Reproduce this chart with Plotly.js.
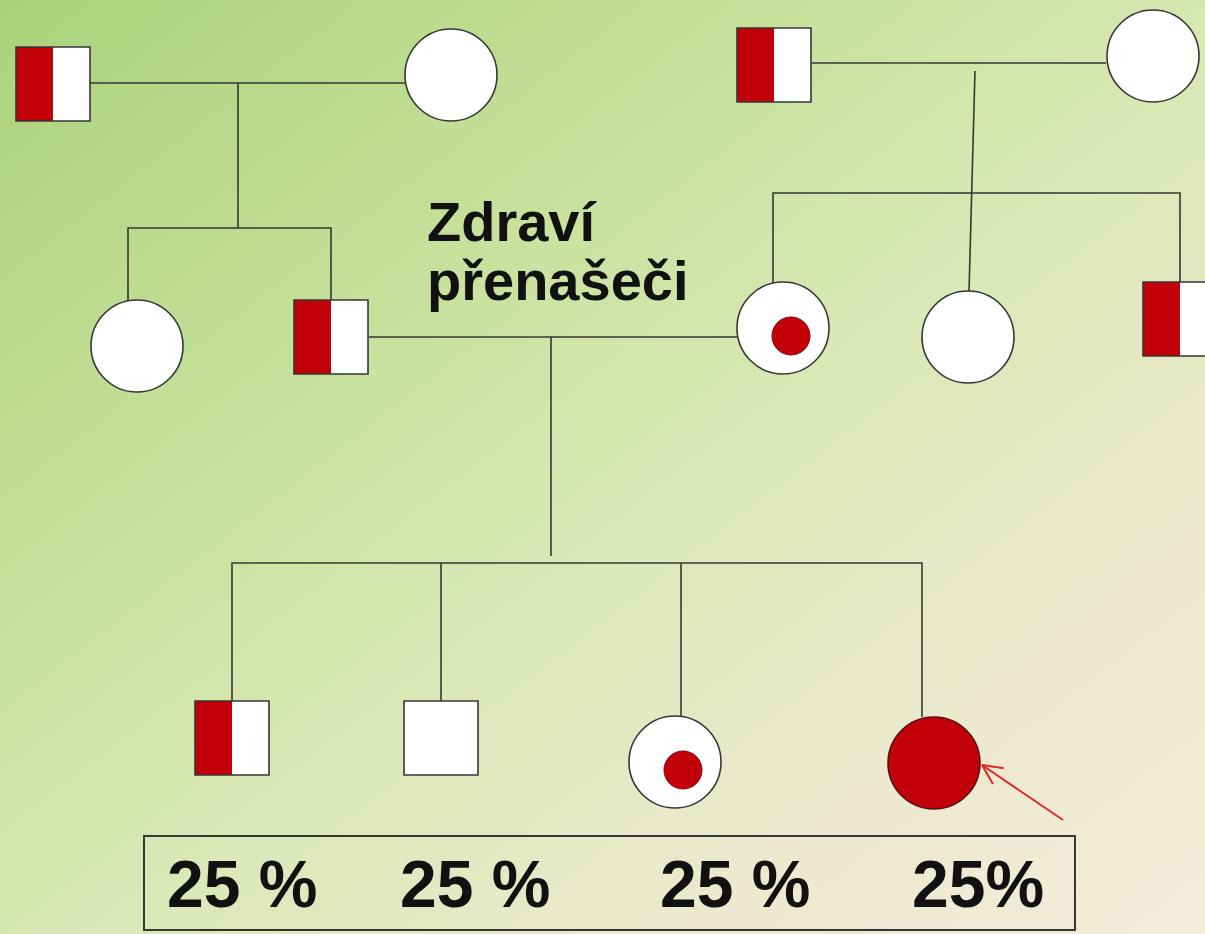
<!DOCTYPE html>
<html>
<head>
<meta charset="utf-8">
<script src="https://cdn.plot.ly/plotly-3.0.1.min.js"></script>
<style>
  html, body { margin: 0; padding: 0; overflow: hidden; }
  #chart {
    width: 1205px; height: 934px;
    background: linear-gradient(to bottom right, #a9d27b 0%, #c4e098 30%, #dbe8b7 55%, #ece9cf 78%, #f3ecd9 100%);
  }
</style>
</head>
<body>
<div id="chart"></div>
<script>
// ---- Pedigree data ----
// individuals: sex (M = square, F = circle), status, centre position
const personSex    = ['M', 'F', 'F', 'M', 'M', 'F', 'F', 'F', 'M', 'M', 'M', 'F', 'F'];
const personStatus = ['carrier', 'normal', 'normal', 'carrier', 'carrier', 'normal',
                      'carrier', 'normal', 'carrier', 'carrier', 'normal', 'carrier', 'affected'];
const personX = [53, 451, 137, 331, 774, 1153, 783, 968, 1180, 232, 441, 675, 934];
const personY = [84, 75, 346, 337, 65, 56, 328, 337, 319, 738, 738, 762, 763];

// connecting lines (polylines, pairs of x/y lists)
const linkX = [
  [90, 405], [238, 238], [128, 128, 331, 331],
  [812, 1106], [975, 969], [773, 773, 1180, 1180],
  [369, 737], [551, 551], [232, 232, 922, 922], [441, 441], [681, 681]
];
const linkY = [
  [83, 83], [83, 228], [300, 228, 228, 300],
  [63, 63], [71, 292], [283, 193, 193, 282],
  [337, 337], [337, 556], [701, 563, 563, 717], [563, 701], [563, 716]
];

// arrow pointing at the affected daughter: [tail, tip]
const arrowX = [1063, 982];
const arrowY = [820, 765];

// labels
const noteLines = ['Zdraví', 'přenašeči'];
const pctLabels = ['25 %', '25 %', '25 %', '25%'];
const pctX = [242, 475, 735, 978];

// ---- styles ----
const RED = '#c2000a';
const INK = '#363636';
const SQ = 74, R = 46, DOT = 19, DOTOFF = 8;

const shapes = [];
personX.forEach((cx, i) => {
  const cy = personY[i];
  if (personSex[i] === 'M') {
    const x0 = cx - SQ / 2, x1 = cx + SQ / 2, y0 = cy - SQ / 2, y1 = cy + SQ / 2;
    shapes.push({type: 'rect', xref: 'x', yref: 'y', x0, x1, y0, y1,
      fillcolor: personStatus[i] === 'affected' ? RED : '#ffffff', line: {width: 0}});
    if (personStatus[i] === 'carrier') {
      shapes.push({type: 'rect', xref: 'x', yref: 'y', x0, x1: cx, y0, y1,
        fillcolor: RED, line: {width: 0}});
    }
    shapes.push({type: 'rect', xref: 'x', yref: 'y', x0, x1, y0, y1,
      fillcolor: 'rgba(0,0,0,0)', line: {color: INK, width: 1.6}});
  } else {
    shapes.push({type: 'circle', xref: 'x', yref: 'y',
      x0: cx - R, x1: cx + R, y0: cy - R, y1: cy + R,
      fillcolor: personStatus[i] === 'affected' ? RED : '#ffffff',
      line: {color: personStatus[i] === 'affected' ? '#5a1010' : INK, width: 1.6}});
    if (personStatus[i] === 'carrier') {
      const dx = cx + DOTOFF, dy = cy + DOTOFF;
      shapes.push({type: 'circle', xref: 'x', yref: 'y',
        x0: dx - DOT, x1: dx + DOT, y0: dy - DOT, y1: dy + DOT,
        fillcolor: RED, line: {color: '#8a0008', width: 1}});
    }
  }
});
// percentage box
shapes.push({type: 'rect', xref: 'x', yref: 'y', x0: 144, x1: 1075, y0: 836, y1: 930,
  fillcolor: 'rgba(0,0,0,0)', line: {color: INK, width: 2}, layer: 'below'});

// lines trace
const lx = [], ly = [];
linkX.forEach((xs, k) => { xs.forEach((v, j) => { lx.push(v); ly.push(linkY[k][j]); }); lx.push(null); ly.push(null); });

// arrow: shaft plus an open V head built from the shaft direction
const ang = Math.atan2(arrowY[0] - arrowY[1], arrowX[0] - arrowX[1]);
const HEAD = 22, SPREAD = 0.45;
const ax = [arrowX[0], arrowX[1], null,
  arrowX[1] + HEAD * Math.cos(ang + SPREAD), arrowX[1], arrowX[1] + HEAD * Math.cos(ang - SPREAD)];
const ay = [arrowY[0], arrowY[1], null,
  arrowY[1] + HEAD * Math.sin(ang + SPREAD), arrowY[1], arrowY[1] + HEAD * Math.sin(ang - SPREAD)];

const traces = [
  {type: 'scatter', mode: 'lines', x: lx, y: ly,
   line: {color: INK, width: 1.6}, hoverinfo: 'skip', showlegend: false},
  {type: 'scatter', mode: 'lines', x: ax, y: ay,
   line: {color: '#e02828', width: 2}, hoverinfo: 'skip', showlegend: false}
];

const FONT = '"Liberation Sans", Arial, sans-serif';
const annotations = [];
noteLines.forEach((t, k) => {
  annotations.push({xref: 'x', yref: 'y', x: 425, y: [221, 280][k], text: '<b>' + t + '</b>',
    showarrow: false, xanchor: 'left', yanchor: 'middle',
    font: {family: FONT, size: 56, color: '#111111'}});
});
pctLabels.forEach((t, k) => {
  annotations.push({xref: 'x', yref: 'y', x: pctX[k], y: 884, text: '<b>' + t + '</b>',
    showarrow: false, xanchor: 'center', yanchor: 'middle',
    font: {family: FONT, size: 66, color: '#111111'}});
});

const layout = {
  width: 1205, height: 934,
  margin: {l: 0, r: 0, t: 0, b: 0, pad: 0},
  paper_bgcolor: 'rgba(0,0,0,0)', plot_bgcolor: 'rgba(0,0,0,0)',
  xaxis: {range: [0, 1205], visible: false, fixedrange: true},
  yaxis: {range: [934, 0], visible: false, fixedrange: true},
  shapes, annotations, showlegend: false
};
Plotly.newPlot('chart', traces, layout, {staticPlot: true, displayModeBar: false});
</script>
</body>
</html>
